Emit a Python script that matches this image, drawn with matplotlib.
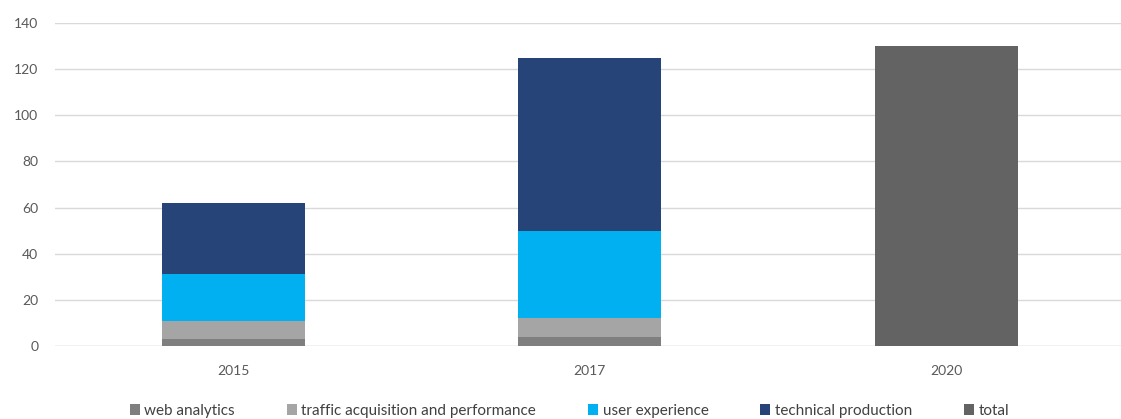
import matplotlib
matplotlib.use("Agg")
import matplotlib.pyplot as plt
from matplotlib.patches import Patch
import numpy as np

plt.rcParams['font.family'] = ['Lato', 'DejaVu Sans']

years = ["2015", "2017", "2020"]
web_analytics = [3, 4, 0]
traffic_acquisition = [8, 8, 0]
user_experience = [20, 38, 0]
technical_production = [31, 75, 0]
total = [0, 0, 130]

series_names = ["web analytics", "traffic acquisition and performance",
                "user experience", "technical production", "total"]
colors = ["#7f7f7f", "#a5a5a5", "#00b0f0", "#264478", "#636363"]

fig = plt.figure(figsize=(11.21, 4.19), dpi=100)
ax = fig.add_axes([55/1121, (419-346)/419, 1 - 55/1121, 323/419])

x = np.arange(len(years))
width = 0.40
bottom = np.zeros(len(years))
for vals, c in zip([web_analytics, traffic_acquisition, user_experience,
                    technical_production, total], colors):
    v = np.array(vals, dtype=float)
    ax.bar(x, v, width, bottom=bottom, color=c, zorder=3)
    bottom += v

ax.set_xlim(-0.5, 2.49)
ax.set_ylim(0, 140)
ax.set_yticks(range(0, 141, 20))
ax.yaxis.grid(True, color="#d9d9d9", linewidth=1, zorder=0)
ax.set_axisbelow(True)
for s in ["top", "right", "left", "bottom"]:
    ax.spines[s].set_visible(False)
ax.axhline(0, color="#d9d9d9", linewidth=1, zorder=1)
ax.set_xticks(x)
ax.set_xticklabels(years)
ax.tick_params(axis="both", length=0, labelsize=10, labelcolor="#595959")
ax.tick_params(axis="y", pad=12)
ax.tick_params(axis="x", pad=14)

handles = [Patch(facecolor=c, edgecolor="none") for c in colors]
fig.legend(handles, series_names, loc="lower center", ncol=5,
           bbox_to_anchor=(0.508, -0.03), frameon=False, fontsize=11,
           handlelength=0.65, handleheight=0.65, handletextpad=0.3,
           columnspacing=3.4, labelcolor="#404040")

fig.savefig("out.png", dpi=100)
